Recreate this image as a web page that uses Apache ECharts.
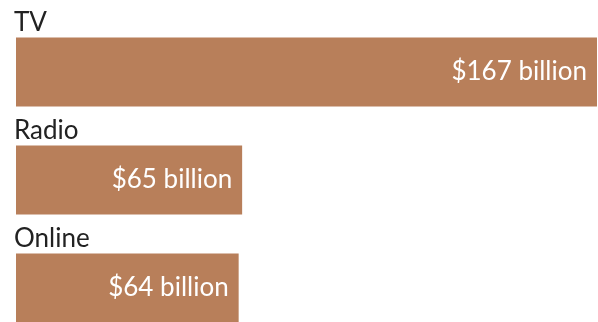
<!DOCTYPE html>
<html>
<head>
<meta charset="utf-8">
<script src="https://cdn.jsdelivr.net/npm/echarts@6/dist/echarts.min.js"></script>
<style>
  html, body { margin: 0; padding: 0; background: #fff; }
  #chart { width: 598px; height: 322px; }
</style>
</head>
<body>
<div id="chart"></div>
<script>
  // ad spending by medium
  const categories = ['TV', 'Radio', 'Online']
  const values = [167, 65, 64]

  const chart = echarts.init(document.getElementById('chart'))
  chart.setOption({
    animation: false,
    grid: {
      top: 18,
      left: 16,
      right: 1,
      height: 324,
      outerBoundsMode: 'none'
    },
    xAxis: {
      type: 'value',
      min: 0,
      max: 167,
      show: false
    },
    yAxis: {
      type: 'category',
      inverse: true,
      data: categories,
      axisLine: { show: false },
      axisTick: { show: false },
      axisLabel: {
        inside: true,
        align: 'left',
        verticalAlign: 'bottom',
        margin: -2,
        padding: [0, 0, 36, 0],
        color: '#222',
        fontFamily: 'Lato',
        fontSize: 26
      }
    },
    series: [{
      type: 'bar',
      data: values,
      barWidth: 69,
      itemStyle: { color: '#b87f5a' },
      label: {
        show: true,
        position: 'insideRight',
        distance: 10,
        color: '#fff',
        fontFamily: 'Lato',
        fontSize: 26,
        formatter: p => '$' + p.value + ' billion'
      }
    }]
  })
</script>
</body>
</html>
